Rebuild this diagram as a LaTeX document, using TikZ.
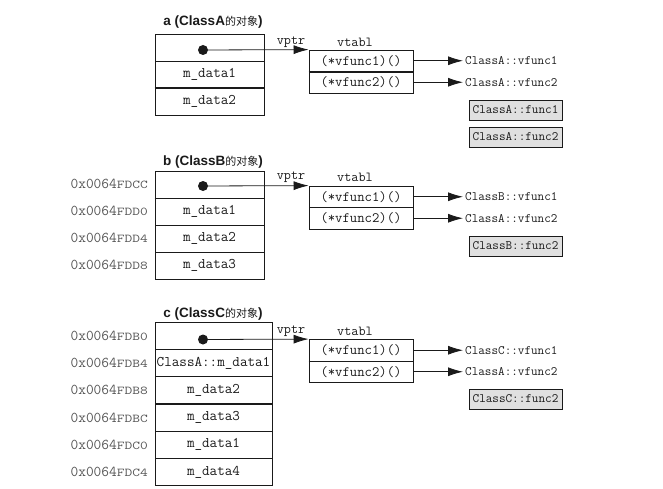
\documentclass[tikz,border=0pt]{standalone}
\usepackage{fontspec}
\usepackage{graphicx}
\setmainfont{Liberation Serif}
\newfontfamily\monof{Latin Modern Mono}
\newfontfamily\sansf{Liberation Sans}
\newfontfamily\cjkf{Noto Sans CJK SC}
\usetikzlibrary{arrows.meta}
\definecolor{ink}{HTML}{1A1A1A}
\definecolor{addrgray}{HTML}{555555}
\definecolor{boxgray}{HTML}{E0E0E0}
\newcommand{\ttl}[2]{\sansf\bfseries #1 (#2{\cjkf\mdseries\fontsize{11}{11}\selectfont 的对象})}
\newcommand{\adr}[2]{#1\scalebox{1}[0.8]{#2}}
\begin{document}
\begin{tikzpicture}[x=1pt,y=-1pt,
  every node/.style={text=ink},
  cellbase/.style={draw=ink, line width=0.8pt, rectangle, inner sep=0pt, minimum height=27pt,
    font=\monof\fontsize{14.7}{16}\selectfont},
  cellab/.style={cellbase, minimum width=109pt},
  cellc/.style={cellbase, minimum width=117pt},
  vt/.style={draw=ink, line width=0.8pt, rectangle, inner sep=0pt, minimum width=104pt, minimum height=21.5pt,
    font=\monof\fontsize{14.3}{16}\selectfont},
  fn/.style={anchor=west, inner sep=2pt, font=\monof\fontsize{12.8}{14}\selectfont},
  fbox/.style={draw=ink, fill=boxgray, line width=0.8pt, rectangle, inner sep=0pt, minimum width=93pt, minimum height=20pt,
    font=\monof\fontsize{12.8}{14}\selectfont},
  lbl/.style={inner sep=0pt, font=\monof\fontsize{13.8}{15}\selectfont},
  addr/.style={anchor=east, inner sep=0pt, text=addrgray, font=\monof\fontsize{15}{16}\selectfont},
  title/.style={inner sep=0pt, font=\fontsize{13.5}{15}\selectfont},
  dot/.style={circle, fill=ink, inner sep=0pt, minimum size=10pt},
  ptr/.style={draw=ink, line width=0.8pt, -{Latex[length=15pt,width=9pt]}},
  sep/.style={draw=ink, line width=1.8pt}
]
\useasboundingbox (0,0) rectangle (663,489);

% ---------------- A ----------------
\node[title] (ta) at (213,22) {\ttl{a}{ClassA}};
\node[cellab] (a0) at (209.5,47.5) {};
\node[cellab] (a1) at (209.5,74.5) {m\_data1};
\node[cellab] (a2) at (209.5,101.5) {m\_data2};
\draw[sep] (a1.south west) -- (a1.south east);
\node[dot] (da) at (203,50) {};
\node[lbl] (pa) at (291,42) {vptr};
\node[lbl] (vla) at (355,42) {vtabl};
\node[vt] (va1) at (361,60.75) {(*vfunc1)()};
\node[vt] (va2) at (361,82.25) {(*vfunc2)()};
\draw[sep] (va1.south west) -- (va1.south east);
\draw[ptr] (da.center) -- (va1.north west);
\node[fn] (fa1) at (463,60.75) {ClassA::vfunc1};
\node[fn] (fa2) at (463,82.25) {ClassA::vfunc2};
\draw[ptr] (va1.east) -- (fa1.west);
\draw[ptr] (va2.east) -- (fa2.west);
\node[fbox] (ga1) at (515.5,110) {ClassA::func1};
\node[fbox] (ga2) at (515.5,137) {ClassA::func2};

% ---------------- B ----------------
\node[title] (tb) at (213,162) {\ttl{b}{ClassB}};
\node[cellab] (b0) at (209.5,184.5) {};
\node[cellab] (b1) at (209.5,211.5) {m\_data1};
\node[cellab] (b2) at (209.5,238.5) {m\_data2};
\node[cellab] (b3) at (209.5,265.5) {m\_data3};
\draw[sep] (b0.south west) -- (b0.south east);
\node[addr] (ab0) at (148,184) {\adr{0x0064}{FDCC}};
\node[addr] (ab1) at (148,211) {\adr{0x0064}{FDD0}};
\node[addr] (ab2) at (148,238) {\adr{0x0064}{FDD4}};
\node[addr] (ab3) at (148,265) {\adr{0x0064}{FDD8}};
\node[dot] (db) at (203,186) {};
\node[lbl] (pb) at (291,177) {vptr};
\node[lbl] (vlb) at (355,177) {vtabl};
\node[vt] (vb1) at (361,196.75) {(*vfunc1)()};
\node[vt] (vb2) at (361,218.25) {(*vfunc2)()};
\draw[ptr] (db.center) -- (vb1.north west);
\node[fn] (fb1) at (463,196.75) {ClassB::vfunc1};
\node[fn] (fb2) at (463,218.25) {ClassA::vfunc2};
\draw[ptr] (vb1.east) -- (fb1.west);
\draw[ptr] (vb2.east) -- (fb2.west);
\node[fbox] (gb) at (515.5,246) {ClassB::func2};

% ---------------- C ----------------
\node[title] (tc) at (213,314) {\ttl{c}{ClassC}};
\node[cellc] (c0) at (213.5,335.65) {};
\node[cellc] (c1) at (213.5,362.95) {ClassA::m\_data1};
\node[cellc] (c2) at (213.5,390.25) {m\_data2};
\node[cellc] (c3) at (213.5,417.55) {m\_data3};
\node[cellc] (c4) at (213.5,444.85) {m\_data1};
\node[cellc] (c5) at (213.5,472.15) {m\_data4};
\node[addr] (ac0) at (148,335.5) {\adr{0x0064}{FDB0}};
\node[addr] (ac1) at (148,363) {\adr{0x0064}{FDB4}};
\node[addr] (ac2) at (148,390) {\adr{0x0064}{FDB8}};
\node[addr] (ac3) at (148,417.5) {\adr{0x0064}{FDBC}};
\node[addr] (ac4) at (148,445) {\adr{0x0064}{FDC0}};
\node[addr] (ac5) at (148,472) {\adr{0x0064}{FDC4}};
\node[dot] (dc) at (203,339.5) {};
\node[lbl] (pc) at (291,331) {vptr};
\node[lbl] (vlc) at (355,331) {vtabl};
\node[vt] (vc1) at (361,350.25) {(*vfunc1)()};
\node[vt] (vc2) at (361,371.75) {(*vfunc2)()};
\draw[sep] (vc1.south west) -- (vc1.south east);
\draw[ptr] (dc.center) -- (vc1.north west);
\node[fn] (fc1) at (463,350.25) {ClassC::vfunc1};
\node[fn] (fc2) at (463,371.75) {ClassA::vfunc2};
\draw[ptr] (vc1.east) -- (fc1.west);
\draw[ptr] (vc2.east) -- (fc2.west);
\node[fbox] (gc) at (515.5,399) {ClassC::func2};
\end{tikzpicture}
\end{document}
